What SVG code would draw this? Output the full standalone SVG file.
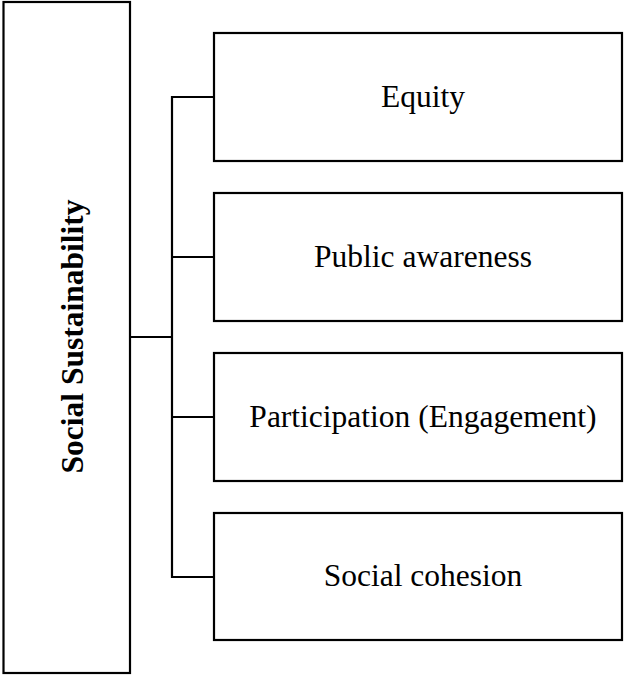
<svg xmlns="http://www.w3.org/2000/svg" width="634" height="675" viewBox="0 0 634 675">
<style>
.box{fill:#fff;stroke:#000;stroke-width:2.2}
.con{fill:none;stroke:#000;stroke-width:2.2}
.lbl{font-family:"Liberation Serif","Times New Roman",serif;font-size:31.5px;fill:#000;text-anchor:middle}
.bold{font-weight:bold}
</style>
<rect width="634" height="675" fill="#fff"/>
<g id="connectors">
<line class="con" x1="130" y1="337" x2="172" y2="337"/>
<line class="con" x1="172" y1="96" x2="172" y2="578"/>
<line class="con" x1="171" y1="97" x2="214" y2="97"/>
<line class="con" x1="172" y1="257" x2="214" y2="257"/>
<line class="con" x1="172" y1="417" x2="214" y2="417"/>
<line class="con" x1="171" y1="577" x2="214" y2="577"/>
</g>
<g id="node-social-sustainability">
<rect class="box" x="3.5" y="2" width="126.5" height="671"/>
<text class="lbl bold" transform="translate(83,336.5) rotate(-90)">Social Sustainability</text>
</g>
<g id="node-equity">
<rect class="box" x="214" y="33" width="408" height="128"/>
<text class="lbl" x="423" y="107">Equity</text>
</g>
<g id="node-public-awareness">
<rect class="box" x="214" y="193" width="408" height="128"/>
<text class="lbl" x="423" y="267">Public awareness</text>
</g>
<g id="node-participation">
<rect class="box" x="214" y="353" width="408" height="128"/>
<text class="lbl" x="423" y="427">Participation (Engagement)</text>
</g>
<g id="node-social-cohesion">
<rect class="box" x="214" y="513" width="408" height="127"/>
<text class="lbl" x="423" y="586">Social cohesion</text>
</g>
</svg>
